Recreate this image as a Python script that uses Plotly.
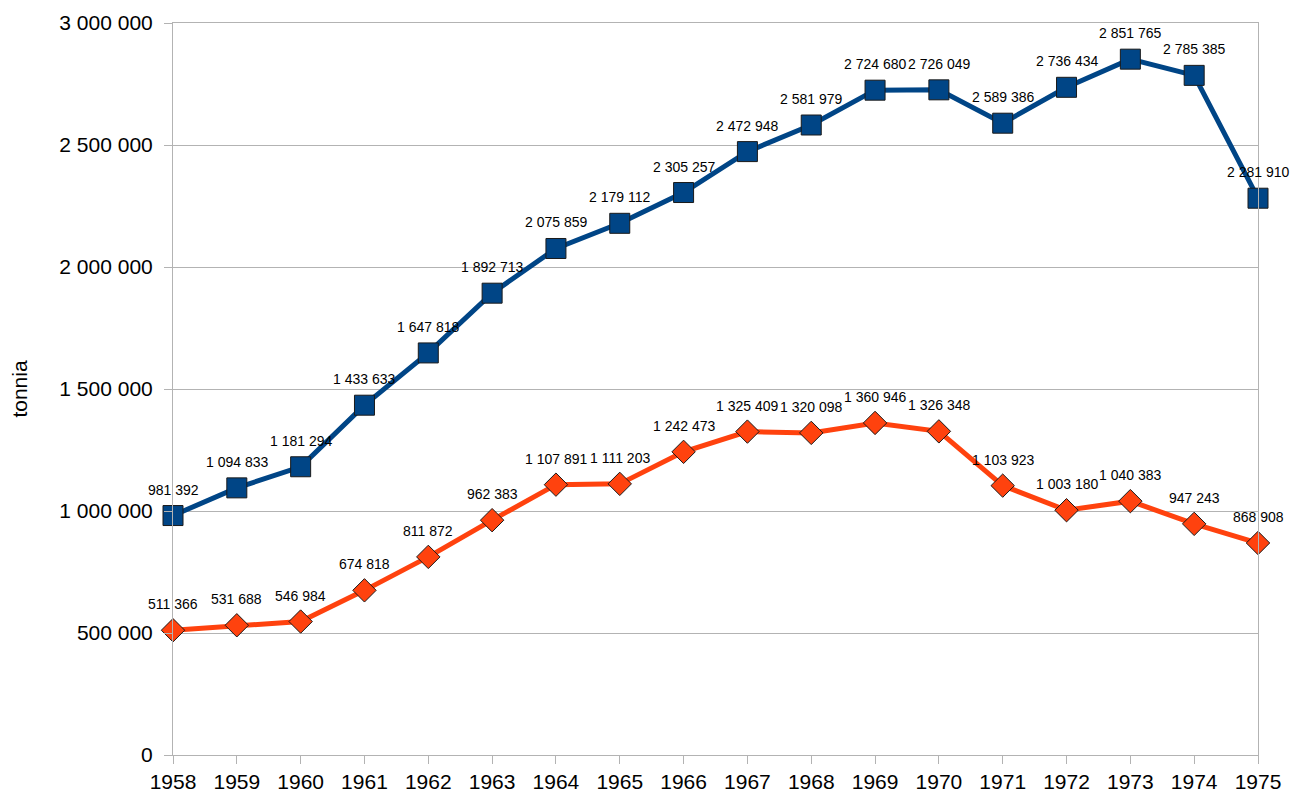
import plotly.graph_objects as go

years = list(range(1958, 1976))
series_blue = [981392, 1094833, 1181294, 1433633, 1647818, 1892713, 2075859, 2179112,
               2305257, 2472948, 2581979, 2724680, 2726049, 2589386, 2736434, 2851765,
               2785385, 2281910]
series_orange = [511366, 531688, 546984, 674818, 811872, 962383, 1107891, 1111203,
                 1242473, 1325409, 1320098, 1360946, 1326348, 1103923, 1003180, 1040383,
                 947243, 868908]
y_ticks = [0, 500000, 1000000, 1500000, 2000000, 2500000, 3000000]


def fmt(v):
    return f"{v:,}".replace(",", " ")


fig = go.Figure()

fig.add_trace(go.Scatter(
    x=years, y=series_blue, mode="lines+markers",
    line=dict(color="#004586", width=5),
    marker=dict(symbol="square", size=20, color="#004586",
                line=dict(color="#1a1a1a", width=1)),
    cliponaxis=False, showlegend=False,
))
fig.add_trace(go.Scatter(
    x=years, y=series_orange, mode="lines+markers",
    line=dict(color="#ff420e", width=5),
    marker=dict(symbol="diamond", size=18, color="#ff420e",
                line=dict(color="#1a1a1a", width=1)),
    cliponaxis=False, showlegend=False,
))

# data labels above each point
for series in (series_blue, series_orange):
    for yr, v in zip(years, series):
        fig.add_annotation(
            x=yr, y=v, text=fmt(v), showarrow=False, yshift=26,
            xanchor="center", yanchor="middle",
            font=dict(family="Liberation Sans, Arial", size=14, color="#000000"),
        )

fig.update_layout(
    width=1301, height=798,
    margin=dict(l=165, r=51, t=15, b=51),
    plot_bgcolor="#ffffff", paper_bgcolor="#ffffff",
    font=dict(family="Liberation Sans, Arial", size=21, color="#000000"),
    separators=". ",
)
fig.update_xaxes(
    range=[1958, 1975], tickvals=years, ticktext=[str(y) for y in years],
    showgrid=False, zeroline=False, showline=True, linecolor="#b3b3b3", linewidth=1,
    mirror=True, ticks="outside", ticklen=8, tickcolor="#b3b3b3",
    tickfont=dict(size=21), automargin=False,
)
fig.update_yaxes(
    range=[0, 3000000], tickvals=y_ticks, ticktext=[fmt(v) for v in y_ticks],
    showgrid=True, gridcolor="#b3b3b3", gridwidth=1, zeroline=False,
    showline=True, linecolor="#b3b3b3", linewidth=1, mirror=True,
    ticks="outside", ticklen=8, tickcolor="#b3b3b3", ticklabelstandoff=7,
    tickfont=dict(size=21), automargin=False,
    title=dict(text="tonnia", font=dict(size=21), standoff=29),
)

fig.write_html("out.html")
